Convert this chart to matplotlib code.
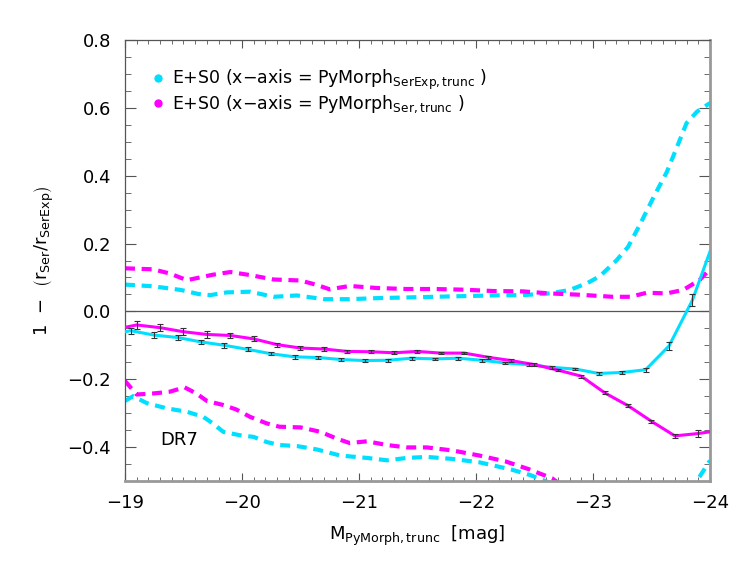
import numpy as np
import matplotlib
matplotlib.use("Agg")
import matplotlib.pyplot as plt
from matplotlib.lines import Line2D

# binned medians (solid lines with error bars)
cyan_x = -19.05 - 0.2 * np.arange(25)
cyan_y = [-0.057, -0.070, -0.077, -0.090, -0.100, -0.112, -0.125, -0.134, -0.136,
          -0.142, -0.145, -0.144, -0.138, -0.140, -0.138, -0.144, -0.152, -0.157,
          -0.165, -0.170, -0.183, -0.180, -0.172, -0.102, 0.033]
cyan_err = [0.009, 0.008, 0.008, 0.007, 0.007, 0.006, 0.005, 0.005, 0.005, 0.005,
            0.005, 0.004, 0.004, 0.004, 0.004, 0.004, 0.004, 0.004, 0.004, 0.004,
            0.004, 0.005, 0.006, 0.012, 0.018]
cyan_edges = [(-19.0, -0.060), (-24.0, 0.176)]

mag_x = -19.1 - 0.2 * np.arange(25)
mag_y = [-0.040, -0.048, -0.060, -0.068, -0.071, -0.081, -0.098, -0.108, -0.111,
         -0.118, -0.119, -0.122, -0.118, -0.123, -0.123, -0.135, -0.145, -0.157,
         -0.173, -0.191, -0.240, -0.278, -0.324, -0.367, -0.360]
mag_err = [0.011, 0.011, 0.010, 0.009, 0.008, 0.007, 0.006, 0.005, 0.005, 0.005,
           0.004, 0.004, 0.004, 0.004, 0.004, 0.004, 0.004, 0.004, 0.004, 0.004,
           0.004, 0.004, 0.005, 0.007, 0.010]
mag_edges = [(-19.0, -0.047), (-24.0, -0.355)]

# scatter envelopes (dashed)
cyan_up_x = [-19.0, -19.24, -19.48, -19.63, -19.73, -19.87, -20.07, -20.27, -20.47,
             -20.70, -20.92, -21.15, -21.40, -21.64, -21.89, -22.15, -22.40, -22.63,
             -22.80, -22.95, -23.06, -23.20, -23.30, -23.40, -23.52, -23.63, -23.72,
             -23.80, -23.89, -24.0]
cyan_up_y = [0.079, 0.074, 0.063, 0.051, 0.048, 0.056, 0.058, 0.043, 0.047, 0.036,
             0.036, 0.039, 0.041, 0.043, 0.045, 0.047, 0.048, 0.053, 0.063, 0.083,
             0.104, 0.150, 0.190, 0.255, 0.338, 0.410, 0.486, 0.555, 0.589, 0.614]
cyan_lo_x = [-19.0, -19.07, -19.19, -19.36, -19.53, -19.67, -19.75, -19.84, -19.98,
             -20.10, -20.21, -20.32, -20.47, -20.64, -20.84, -21.07, -21.24, -21.41,
             -21.58, -21.80, -22.03, -22.30, -22.46, -22.63, -22.80, -23.85, -24.0]
cyan_lo_y = [-0.264, -0.250, -0.271, -0.286, -0.296, -0.311, -0.330, -0.355, -0.365,
             -0.370, -0.385, -0.394, -0.397, -0.407, -0.425, -0.432, -0.439, -0.432,
             -0.429, -0.435, -0.445, -0.466, -0.482, -0.505, -0.54, -0.52, -0.44]
mag_up_x = [-19.0, -19.24, -19.38, -19.53, -19.64, -19.75, -19.90, -20.07, -20.27,
            -20.50, -20.64, -20.75, -20.92, -21.15, -21.40, -21.64, -21.89, -22.15,
            -22.40, -22.63, -22.89, -23.17, -23.32, -23.46, -23.63, -23.77, -23.91, -24.0]
mag_up_y = [0.127, 0.124, 0.112, 0.092, 0.100, 0.108, 0.116, 0.107, 0.094, 0.091,
            0.078, 0.065, 0.075, 0.069, 0.066, 0.066, 0.064, 0.060, 0.059, 0.053,
            0.049, 0.043, 0.043, 0.055, 0.053, 0.063, 0.092, 0.124]
mag_lo_x = [-19.0, -19.10, -19.24, -19.38, -19.51, -19.61, -19.70, -19.84, -19.95,
            -20.07, -20.21, -20.32, -20.50, -20.67, -20.81, -20.92, -21.07, -21.24,
            -21.41, -21.58, -21.80, -22.03, -22.25, -22.45, -22.65, -22.80]
mag_lo_y = [-0.205, -0.245, -0.242, -0.237, -0.224, -0.242, -0.264, -0.276, -0.289,
            -0.311, -0.330, -0.340, -0.342, -0.355, -0.375, -0.388, -0.383, -0.394,
            -0.401, -0.401, -0.410, -0.425, -0.442, -0.465, -0.492, -0.53]

cyan = '#00DFFF'
magenta = '#FF00FF'
labels = [r'E+S0 (x$-$axis = PyMorph$_{\rm SerExp,trunc}$ )',
          r'E+S0 (x$-$axis = PyMorph$_{\rm Ser,trunc}$ )']

fig = plt.figure(figsize=(7.47, 5.61), dpi=100)
ax = fig.add_axes([0.1673, 0.1426, 0.7831, 0.7861])

ax.axhline(0.0, color='#555555', lw=0.9, zorder=1)

dash = (2.4, 1.6)
ax.plot(cyan_up_x, cyan_up_y, color=cyan, lw=3.0, dashes=dash, zorder=2)
ax.plot(cyan_lo_x, cyan_lo_y, color=cyan, lw=3.0, dashes=dash, zorder=2)
ax.plot(mag_up_x, mag_up_y, color=magenta, lw=3.0, dashes=dash, zorder=2)
ax.plot(mag_lo_x, mag_lo_y, color=magenta, lw=3.0, dashes=dash, zorder=2)

cx = [cyan_edges[0][0]] + list(cyan_x) + [cyan_edges[1][0]]
cy = [cyan_edges[0][1]] + cyan_y + [cyan_edges[1][1]]
mx = [mag_edges[0][0]] + list(mag_x) + [mag_edges[1][0]]
my = [mag_edges[0][1]] + mag_y + [mag_edges[1][1]]
ax.plot(cx, cy, color=cyan, lw=2.2, zorder=3)
ax.plot(mx, my, color=magenta, lw=2.2, zorder=3)
ax.errorbar(cyan_x, cyan_y, yerr=cyan_err, fmt='none', ecolor='#333333',
            elinewidth=0.8, capsize=2.5, capthick=0.8, zorder=4)
ax.errorbar(mag_x, mag_y, yerr=mag_err, fmt='none', ecolor='#333333',
            elinewidth=0.8, capsize=2.5, capthick=0.8, zorder=4)

ax.set_xlim(-19, -24)
ax.set_ylim(-0.5, 0.8)
ax.set_xticks([-19, -20, -21, -22, -23, -24])
ax.set_xticks(np.arange(-19, -24.01, -0.1), minor=True)
yt = [-0.4, -0.2, 0.0, 0.2, 0.4, 0.6, 0.8]
ax.set_yticks(yt)
ax.set_yticks(np.arange(-0.5, 0.801, 0.05), minor=True)
ax.set_yticklabels([('%.1f' % v).replace('-', '\u2212') for v in yt])
ax.set_xticklabels(['\u221219', '\u221220', '\u221221', '\u221222', '\u221223', '\u221224'])
ax.tick_params(axis='both', which='both', direction='in', top=True, right=True,
               colors='#555555', labelcolor='black', labelsize=13)
ax.tick_params(axis='x', which='major', length=6, pad=9)
ax.tick_params(axis='x', which='minor', length=3)
ax.tick_params(axis='y', which='major', length=8, pad=10)
ax.tick_params(axis='y', which='minor', length=4)
for s in ['left', 'top']:
    ax.spines[s].set_color('#555555')
    ax.spines[s].set_linewidth(0.9)
for s in ['right', 'bottom']:
    ax.spines[s].set_color('#999999')
    ax.spines[s].set_linewidth(2.0)

ax.set_xlabel(r'M$_{\rm PyMorph,trunc}$  [mag]', fontsize=13, labelpad=9)
ax.set_ylabel(r'1  $-$  $\left(\mathrm{r}_{\rm Ser}/\mathrm{r}_{\rm SerExp}\right)$',
              fontsize=13, labelpad=8)

ax.text(-19.3, -0.38, 'DR7', fontsize=13, va='center', ha='left')

handles = [Line2D([], [], ls='none', marker='o', ms=5, color=cyan),
           Line2D([], [], ls='none', marker='o', ms=5, color=magenta)]
ax.legend(handles, labels, loc='upper left', bbox_to_anchor=(0.03, 0.96),
          frameon=False, fontsize=12.5, handlelength=0.6, handletextpad=0.5,
          labelspacing=0.05, borderaxespad=0.2)

fig.savefig('out.png', dpi=100)
